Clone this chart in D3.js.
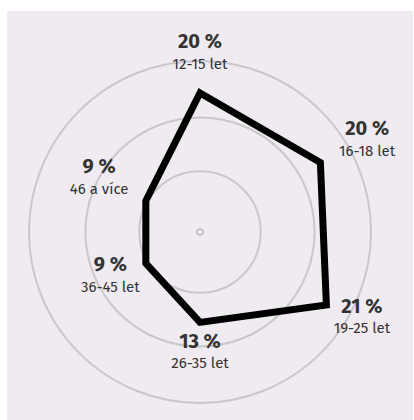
<!DOCTYPE html>
<html>
<head>
<meta charset="utf-8">
<script src="https://cdn.jsdelivr.net/npm/d3@7"></script>
<style>
  body { margin: 0; background: #fff; }
  svg { display: block; }
  text { font-family: "Fira Sans", Roboto, "Noto Sans", sans-serif; fill: #333; }
</style>
</head>
<body>
<div id="root"></div>
<script>
// categories and values (percent)
let categories = ["12-15 let", "16-18 let", "19-25 let", "26-35 let", "36-45 let", "46 a více"];
let values = [20, 20, 21, 13, 9, 9];
// grid rings, as fraction of outer radius
let rings = [0.355, 0.67, 1];

let width = 414, height = 420;
let cx = 200, cy = 232;
let outerR = 171;

let svg = d3.select("#root").append("svg")
  .attr("width", width)
  .attr("height", height);

// panel background
svg.append("rect")
  .attr("x", 7).attr("y", 11)
  .attr("width", 406).attr("height", height - 11)
  .attr("fill", "#efebf0");

let g = svg.append("g").attr("transform", "translate(" + cx + "," + cy + ")");

// radius + angle scales
let r = d3.scaleLinear().domain([0, 20]).range([0, 139]);
let angle = d3.scaleBand().domain(categories).range([0, 2 * Math.PI]).align(0);
let ang = (c) => angle(c);

// rings
g.selectAll("circle.ring").data(rings).enter().append("circle")
  .attr("class", "ring")
  .attr("r", (d) => d * outerR)
  .attr("fill", "none")
  .attr("stroke", "#c9c7ca")
  .attr("stroke-width", 2);

// center dot
g.append("circle").attr("r", 3)
  .attr("fill", "none").attr("stroke", "#bdbbbe").attr("stroke-width", 1.5);

let data = categories.map((c, i) => ({ cat: c, value: values[i] }));

// the shape
let line = d3.lineRadial()
  .angle((d) => ang(d.cat))
  .radius((d) => r(d.value))
  .curve(d3.curveLinearClosed);

g.append("path").datum(data)
  .attr("d", line)
  .attr("fill", "none")
  .attr("stroke", "#000")
  .attr("stroke-width", 7)
  .attr("stroke-linejoin", "miter");

// labels, placed out from each corner
let labels = g.selectAll("g.label").data(data).enter().append("g")
  .attr("class", "label")
  .attr("transform", (d) => {
    let a = ang(d.cat);
    let rr = r(d.value);
    let x = Math.sin(a) * (rr + 47.5 + 13 * Math.cos(a));
    let y = -Math.cos(a) * (rr + 35.3) - 9.7;
    return "translate(" + x + "," + y + ")";
  });

labels.append("text")
  .attr("text-anchor", "middle")
  .style("font-size", "20px")
  .style("font-weight", "bold")
  .text((d) => d.value + " %");

labels.append("text")
  .attr("text-anchor", "middle")
  .attr("y", 20.5)
  .style("font-size", "15px")
  .text((d) => d.cat);
</script>
</body>
</html>
